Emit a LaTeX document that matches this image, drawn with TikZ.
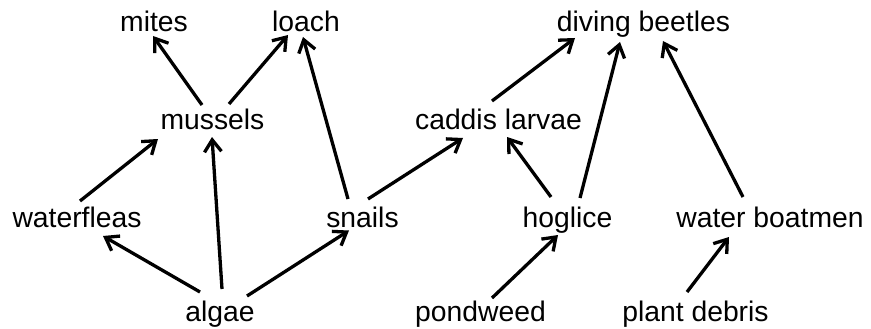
\documentclass[tikz,border=0pt]{standalone}
\usepackage{fontspec}
\setmainfont{Liberation Sans}
\usetikzlibrary{arrows.meta}
\begin{document}
\begin{tikzpicture}[x=1pt,y=-1pt,
  lbl/.style={rectangle, inner xsep=3pt, inner ysep=4pt,
    font=\fontsize{28.3}{32}\selectfont, text height=22pt, text depth=5pt},
  eat/.style={-{Straight Barb[length=12pt,width=17pt]}, line width=3.3pt}]
\useasboundingbox (0,0) rectangle (871,329);
% row 1
\node[lbl] (mites)   at (154,23.5)   {mites};
\node[lbl] (loach)   at (306,23.5)   {loach};
\node[lbl] (diving)  at (643.5,23.5) {diving beetles};
% row 2
\node[lbl] (mussels) at (212.5,120.5) {mussels};
\node[lbl] (caddis)  at (498.5,120.5) {caddis larvae};
% row 3
\node[lbl] (waterfleas) at (77,218.5)    {waterfleas};
\node[lbl] (snails)     at (362.5,218.5) {snails};
\node[lbl] (hoglice)    at (567.5,218.5) {hoglice};
\node[lbl] (boatmen)    at (770,218.5)   {water boatmen};
% row 4
\node[lbl] (algae)    at (220,312.5)   {algae};
\node[lbl] (pondweed) at (480.5,312.5) {pondweed};
\node[lbl] (debris)   at (695.5,312.5) {plant debris};
% edges
\draw[eat] ([shift={(-10.5,-15.5)}]mussels.center) -- ([shift={(-1,12.5)}]mites.center);
\draw[eat] ([shift={(16.5,-16.5)}]mussels.center) -- ([shift={(-18,11.5)}]loach.center);
\draw[eat] ([shift={(-14.5,-19.5)}]snails.center) -- ([shift={(-3,13.5)}]loach.center);
\draw[eat] ([shift={(-6.5,-19.5)}]caddis.center) -- ([shift={(-68.5,14.5)}]diving.center);
\draw[eat] ([shift={(12.5,-20.5)}]hoglice.center) -- ([shift={(-23.5,18.5)}]diving.center);
\draw[eat] ([shift={(-27,-21.5)}]boatmen.center) -- ([shift={(19.5,17.5)}]diving.center);
\draw[eat] ([shift={(3,-17.5)}]waterfleas.center) -- ([shift={(-54.5,18.5)}]mussels.center);
\draw[eat] ([shift={(2,-23.5)}]algae.center) -- ([shift={(-0.5,16.5)}]mussels.center);
\draw[eat] ([shift={(5.5,-19.5)}]snails.center) -- ([shift={(-35.5,17.5)}]caddis.center);
\draw[eat] ([shift={(-16.5,-21.5)}]hoglice.center) -- ([shift={(8.5,16.5)}]caddis.center);
\draw[eat] ([shift={(-20,-20.5)}]algae.center) -- ([shift={(26,17.5)}]waterfleas.center);
\draw[eat] ([shift={(27,-16.5)}]algae.center) -- ([shift={(-13.5,12)}]snails.center);
\draw[eat] ([shift={(11.5,-14.5)}]pondweed.center) -- ([shift={(-9.5,16.5)}]hoglice.center);
\draw[eat] ([shift={(-8.5,-20.5)}]debris.center) -- ([shift={(-41,18.5)}]boatmen.center);
\end{tikzpicture}
\end{document}
